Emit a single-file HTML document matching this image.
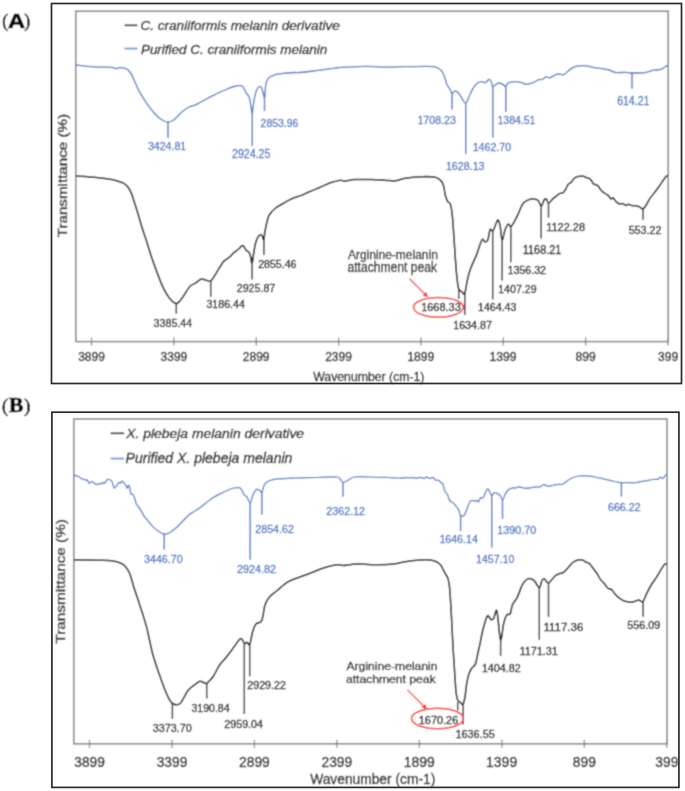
<!DOCTYPE html>
<html><head><meta charset="utf-8"><style>
html,body{margin:0;padding:0;background:#fff;}
body{width:685px;height:791px;overflow:hidden;}
svg{display:block;font-family:"Liberation Sans",sans-serif;}
#wrap{width:685px;height:791px;}
</style></head><body>
<div id="wrap"><svg width="685" height="791" viewBox="0 0 685 791">
<defs><filter id="bl" x="0" y="0" width="100%" height="100%"><feConvolveMatrix order="3" kernelMatrix="1 3 1 3 9 3 1 3 1" edgeMode="duplicate" preserveAlpha="true"/></filter></defs>
<g filter="url(#bl)"><rect width="685" height="791" fill="#fff"/>
<text x="2.19" y="27.24" font-size="19.34" textLength="6.01" lengthAdjust="spacingAndGlyphs" font-family="Liberation Serif" fill="#000000" stroke="#000000" stroke-width="0.5" font-weight="normal" font-style="normal">(</text>
<text x="8.01" y="27.70" font-size="19.42" textLength="17.03" lengthAdjust="spacingAndGlyphs" font-family="Liberation Sans" fill="#000000" stroke="#000000" stroke-width="0.7" font-weight="bold" font-style="normal">A</text>
<text x="24.17" y="27.24" font-size="19.34" textLength="5.89" lengthAdjust="spacingAndGlyphs" font-family="Liberation Serif" fill="#000000" stroke="#000000" stroke-width="0.5" font-weight="normal" font-style="normal">)</text>
<rect x="75.8" y="11.2" width="592.4000000000001" height="330.40000000000003" fill="none" stroke="#808080" stroke-width="1.5"/>
<line x1="91.50" y1="337.6" x2="91.50" y2="345.6" stroke="#808080" stroke-width="1.2"/>
<line x1="173.86" y1="337.6" x2="173.86" y2="345.6" stroke="#808080" stroke-width="1.2"/>
<line x1="256.22" y1="337.6" x2="256.22" y2="345.6" stroke="#808080" stroke-width="1.2"/>
<line x1="338.58" y1="337.6" x2="338.58" y2="345.6" stroke="#808080" stroke-width="1.2"/>
<line x1="420.94" y1="337.6" x2="420.94" y2="345.6" stroke="#808080" stroke-width="1.2"/>
<line x1="503.30" y1="337.6" x2="503.30" y2="345.6" stroke="#808080" stroke-width="1.2"/>
<line x1="585.66" y1="337.6" x2="585.66" y2="345.6" stroke="#808080" stroke-width="1.2"/>
<line x1="668.02" y1="337.6" x2="668.02" y2="345.6" stroke="#808080" stroke-width="1.2"/>
<text x="78.22" y="361.40" font-size="12.71" textLength="26.61" lengthAdjust="spacingAndGlyphs" fill="#262626" stroke="#262626" stroke-width="0.35" font-weight="normal" font-style="normal">3899</text>
<text x="160.58" y="361.40" font-size="12.71" textLength="26.61" lengthAdjust="spacingAndGlyphs" fill="#262626" stroke="#262626" stroke-width="0.35" font-weight="normal" font-style="normal">3399</text>
<text x="242.82" y="361.40" font-size="12.71" textLength="26.74" lengthAdjust="spacingAndGlyphs" fill="#262626" stroke="#262626" stroke-width="0.35" font-weight="normal" font-style="normal">2899</text>
<text x="325.18" y="361.40" font-size="12.71" textLength="26.74" lengthAdjust="spacingAndGlyphs" fill="#262626" stroke="#262626" stroke-width="0.35" font-weight="normal" font-style="normal">2399</text>
<text x="407.23" y="361.40" font-size="12.71" textLength="27.06" lengthAdjust="spacingAndGlyphs" fill="#262626" stroke="#262626" stroke-width="0.35" font-weight="normal" font-style="normal">1899</text>
<text x="489.59" y="361.40" font-size="12.71" textLength="27.06" lengthAdjust="spacingAndGlyphs" fill="#262626" stroke="#262626" stroke-width="0.35" font-weight="normal" font-style="normal">1399</text>
<text x="575.56" y="361.40" font-size="12.71" textLength="20.23" lengthAdjust="spacingAndGlyphs" fill="#262626" stroke="#262626" stroke-width="0.35" font-weight="normal" font-style="normal">899</text>
<text x="657.99" y="361.40" font-size="12.71" textLength="20.17" lengthAdjust="spacingAndGlyphs" fill="#262626" stroke="#262626" stroke-width="0.35" font-weight="normal" font-style="normal">399</text>
<text x="313.24" y="380.80" font-size="13.10" textLength="111.21" lengthAdjust="spacingAndGlyphs" fill="#262626" stroke="#262626" stroke-width="0.35" font-weight="normal" font-style="normal">Wavenumber (cm-1)</text>
<text transform="translate(66.90,237.30) rotate(-90)" x="0" y="0" font-size="13.19" textLength="123.34" lengthAdjust="spacingAndGlyphs" fill="#333333" stroke="#333333" stroke-width="0.45">Transmittance (%)</text>
<line x1="124.6" y1="25.3" x2="137.4" y2="25.3" stroke="#404040" stroke-width="1.8"/>
<text x="140.56" y="30.40" font-size="12.86" textLength="199.15" lengthAdjust="spacingAndGlyphs" fill="#262626" stroke="#262626" stroke-width="0.35" font-weight="normal" font-style="italic">C. craniiformis melanin derivative</text>
<line x1="124.6" y1="48.6" x2="137.4" y2="48.6" stroke="#6f94d6" stroke-width="1.8"/>
<text x="140.90" y="53.70" font-size="12.86" textLength="186.46" lengthAdjust="spacingAndGlyphs" fill="#262626" stroke="#262626" stroke-width="0.35" font-weight="normal" font-style="italic">Purified C. craniiformis melanin</text>
<path d="M76.00,64.80 C76.23,64.87 74.48,64.85 77.40,65.20 C80.32,65.55 87.90,66.55 93.50,66.90 C99.10,67.25 107.20,67.00 111.00,67.30 C114.80,67.60 114.97,68.65 116.30,68.70 C117.63,68.75 117.38,67.60 119.00,67.60 C120.62,67.60 124.12,67.88 126.00,68.70 C127.88,69.52 129.00,70.70 130.30,72.50 C131.60,74.30 132.35,76.43 133.80,79.50 C135.25,82.57 136.97,87.10 139.00,90.90 C141.03,94.70 143.37,98.50 146.00,102.30 C148.63,106.10 152.17,110.78 154.80,113.70 C157.43,116.62 159.60,118.40 161.80,119.80 C164.00,121.20 165.97,122.10 168.00,122.10 C170.03,122.10 171.83,121.35 174.00,119.80 C176.17,118.25 178.67,114.85 181.00,112.80 C183.33,110.75 185.50,108.87 188.00,107.50 C190.50,106.13 193.92,105.47 196.00,104.60 C198.08,103.73 197.70,103.80 200.50,102.30 C203.30,100.80 208.72,97.65 212.80,95.60 C216.88,93.55 221.50,91.52 225.00,90.00 C228.50,88.48 231.17,87.22 233.80,86.50 C236.43,85.78 239.20,85.55 240.80,85.70 C242.40,85.85 242.53,86.23 243.40,87.40 C244.27,88.57 245.12,91.23 246.00,92.70 C246.88,94.17 247.97,94.60 248.70,96.20 C249.43,97.80 249.82,99.45 250.40,102.30 C250.98,105.15 251.60,113.60 252.20,113.30 C252.80,113.00 253.27,104.38 254.00,100.50 C254.73,96.62 255.65,92.33 256.60,90.00 C257.55,87.67 258.83,86.78 259.70,86.50 C260.57,86.22 261.00,86.52 261.80,88.30 C262.60,90.08 263.85,97.78 264.50,97.20 C265.15,96.62 265.12,87.90 265.70,84.80 C266.28,81.70 266.62,80.22 268.00,78.60 C269.38,76.98 271.50,75.97 274.00,75.10 C276.50,74.23 279.50,73.83 283.00,73.40 C286.50,72.97 292.17,72.65 295.00,72.50 C297.83,72.35 296.25,72.85 300.00,72.50 C303.75,72.15 311.67,71.13 317.50,70.40 C323.33,69.67 330.33,68.63 335.00,68.10 C339.67,67.57 340.23,67.48 345.50,67.20 C350.77,66.92 359.58,66.40 366.60,66.40 C373.62,66.40 381.20,67.15 387.60,67.20 C394.00,67.25 398.35,66.83 405.00,66.70 C411.65,66.57 422.28,66.30 427.50,66.40 C432.72,66.50 433.97,66.57 436.30,67.30 C438.63,68.03 440.18,69.35 441.50,70.80 C442.82,72.25 443.32,73.82 444.20,76.00 C445.08,78.18 445.78,81.57 446.80,83.90 C447.82,86.23 449.43,88.40 450.30,90.00 C451.17,91.60 451.18,93.35 452.00,93.50 C452.82,93.65 454.17,91.03 455.20,90.90 C456.23,90.77 457.12,91.53 458.20,92.70 C459.28,93.87 460.45,96.15 461.70,97.90 C462.95,99.65 464.38,103.63 465.70,103.20 C467.02,102.77 468.38,97.78 469.60,95.30 C470.82,92.82 471.70,90.35 473.00,88.30 C474.30,86.25 475.93,84.12 477.40,83.00 C478.87,81.88 480.48,81.65 481.80,81.60 C483.12,81.55 484.13,83.05 485.30,82.70 C486.47,82.35 487.85,79.73 488.80,79.50 C489.75,79.27 490.35,80.13 491.00,81.30 C491.65,82.47 491.90,85.98 492.70,86.50 C493.50,87.02 494.70,84.98 495.80,84.40 C496.90,83.82 498.12,83.00 499.30,83.00 C500.48,83.00 501.87,83.82 502.90,84.40 C503.93,84.98 504.65,86.73 505.50,86.50 C506.35,86.27 506.42,83.82 508.00,83.00 C509.58,82.18 512.67,81.65 515.00,81.60 C517.33,81.55 520.08,82.23 522.00,82.70 C523.92,83.17 524.67,84.40 526.50,84.40 C528.33,84.40 530.98,83.50 533.00,82.70 C535.02,81.90 537.12,80.12 538.60,79.60 C540.08,79.08 540.62,80.08 541.90,79.60 C543.18,79.12 545.02,77.00 546.30,76.70 C547.58,76.40 547.78,78.23 549.60,77.80 C551.42,77.37 554.83,74.63 557.20,74.10 C559.57,73.57 561.60,75.43 563.80,74.60 C566.00,73.77 568.20,70.50 570.40,69.10 C572.60,67.70 574.45,66.75 577.00,66.20 C579.55,65.65 582.80,65.57 585.70,65.80 C588.60,66.03 590.75,66.98 594.40,67.60 C598.05,68.22 604.13,68.70 607.60,69.50 C611.07,70.30 612.30,71.92 615.20,72.40 C618.10,72.88 622.25,72.30 625.00,72.40 C627.75,72.50 628.40,72.97 631.70,73.00 C635.00,73.03 641.15,73.07 644.80,72.60 C648.45,72.13 651.07,70.68 653.60,70.20 C656.13,69.72 657.88,70.37 660.00,69.70 C662.12,69.03 664.97,66.90 666.30,66.20 C667.63,65.50 667.72,65.62 668.00,65.50" fill="none" stroke="#4472C4" stroke-width="1.3" stroke-linejoin="round"/>
<path d="M76.00,176.10 C79.37,176.33 90.73,177.02 96.20,177.50 C101.67,177.98 105.25,178.42 108.80,179.00 C112.35,179.58 115.07,180.32 117.50,181.00 C119.93,181.68 121.70,182.13 123.40,183.10 C125.10,184.07 126.37,185.08 127.70,186.80 C129.03,188.52 130.30,190.85 131.40,193.40 C132.50,195.95 133.20,198.70 134.30,202.10 C135.40,205.50 136.67,209.42 138.00,213.80 C139.33,218.18 140.85,223.78 142.30,228.40 C143.75,233.02 145.18,236.77 146.70,241.50 C148.22,246.23 149.60,251.45 151.40,256.80 C153.20,262.15 155.50,268.37 157.50,273.60 C159.50,278.83 161.45,284.18 163.40,288.20 C165.35,292.22 167.07,295.13 169.20,297.70 C171.33,300.27 174.02,303.60 176.20,303.60 C178.38,303.60 180.07,300.52 182.30,297.70 C184.53,294.88 187.40,289.13 189.60,286.70 C191.80,284.27 193.55,284.37 195.50,283.10 C197.45,281.83 199.60,279.60 201.30,279.10 C203.00,278.60 204.12,279.80 205.70,280.10 C207.28,280.40 209.10,281.98 210.80,280.90 C212.50,279.82 213.83,276.77 215.90,273.60 C217.97,270.43 221.02,264.58 223.20,261.90 C225.38,259.22 227.30,258.97 229.00,257.50 C230.70,256.03 231.80,254.52 233.40,253.10 C235.00,251.68 237.10,250.28 238.60,249.00 C240.10,247.72 241.42,245.65 242.40,245.40 C243.38,245.15 243.82,246.65 244.50,247.50 C245.18,248.35 245.92,249.83 246.50,250.50 C247.08,251.17 247.48,251.00 248.00,251.50 C248.52,252.00 249.13,252.50 249.60,253.50 C250.07,254.50 250.40,255.78 250.80,257.50 C251.20,259.22 251.58,264.05 252.00,263.80 C252.42,263.55 252.90,258.47 253.30,256.00 C253.70,253.53 254.07,250.95 254.40,249.00 C254.73,247.05 254.90,245.88 255.30,244.30 C255.70,242.72 256.32,240.77 256.80,239.50 C257.28,238.23 257.58,237.52 258.20,236.70 C258.82,235.88 259.82,234.70 260.50,234.60 C261.18,234.50 261.75,235.20 262.30,236.10 C262.85,237.00 263.42,240.38 263.80,240.00 C264.18,239.62 264.27,235.92 264.60,233.80 C264.93,231.68 265.48,228.93 265.80,227.30 C266.12,225.67 265.98,225.95 266.50,224.00 C267.02,222.05 267.48,218.18 268.90,215.60 C270.32,213.02 272.63,210.52 275.00,208.50 C277.37,206.48 280.40,205.08 283.10,203.50 C285.80,201.92 288.17,200.35 291.20,199.00 C294.23,197.65 298.48,196.52 301.30,195.40 C304.12,194.28 304.95,193.65 308.10,192.30 C311.25,190.95 316.48,188.88 320.20,187.30 C323.92,185.72 327.02,183.98 330.40,182.80 C333.78,181.62 338.15,180.47 340.50,180.20 C342.85,179.93 342.13,181.30 344.50,181.20 C346.87,181.10 350.30,179.87 354.70,179.60 C359.10,179.33 365.85,179.50 370.90,179.60 C375.95,179.70 380.97,180.00 385.00,180.20 C389.03,180.40 391.72,181.13 395.10,180.80 C398.48,180.47 400.80,178.88 405.30,178.20 C409.80,177.52 417.27,176.88 422.10,176.70 C426.93,176.52 431.25,176.52 434.30,177.10 C437.35,177.68 438.88,178.85 440.40,180.20 C441.92,181.55 442.57,182.67 443.40,185.20 C444.23,187.73 444.73,192.77 445.40,195.40 C446.07,198.03 446.55,199.48 447.40,201.00 C448.25,202.52 449.65,201.73 450.50,204.50 C451.35,207.27 451.83,210.68 452.50,217.60 C453.17,224.52 453.82,236.55 454.50,246.00 C455.18,255.45 455.92,267.22 456.60,274.30 C457.28,281.38 457.77,285.63 458.60,288.50 C459.43,291.37 460.58,290.67 461.60,291.50 C462.62,292.33 463.68,295.68 464.70,293.50 C465.72,291.32 466.70,282.62 467.70,278.40 C468.70,274.18 469.18,272.25 470.70,268.20 C472.22,264.15 474.93,258.82 476.80,254.10 C478.67,249.38 480.55,241.93 481.90,239.90 C483.25,237.87 483.90,241.90 484.90,241.90 C485.90,241.90 487.05,241.92 487.90,239.90 C488.75,237.88 489.15,231.32 490.00,229.80 C490.85,228.28 492.00,231.82 493.00,230.80 C494.00,229.78 495.17,225.50 496.00,223.70 C496.83,221.90 497.32,219.67 498.00,220.00 C498.68,220.33 499.42,222.38 500.10,225.70 C500.78,229.02 501.27,239.22 502.10,239.90 C502.93,240.58 504.08,232.43 505.10,229.80 C506.12,227.17 507.25,224.62 508.20,224.10 C509.15,223.58 509.78,227.10 510.80,226.70 C511.82,226.30 513.05,223.88 514.30,221.70 C515.55,219.52 517.13,216.13 518.30,213.60 C519.47,211.07 520.28,208.40 521.30,206.50 C522.32,204.60 522.78,203.47 524.40,202.20 C526.02,200.93 529.00,199.33 531.00,198.90 C533.00,198.47 535.13,199.23 536.40,199.60 C537.67,199.97 537.80,200.00 538.60,201.10 C539.40,202.20 540.28,206.38 541.20,206.20 C542.12,206.02 543.25,201.22 544.10,200.00 C544.95,198.78 545.57,198.35 546.30,198.90 C547.03,199.45 547.42,203.30 548.50,203.30 C549.58,203.30 551.38,200.20 552.80,198.90 C554.22,197.60 555.80,196.42 557.00,195.50 C558.20,194.58 559.02,193.82 560.00,193.40 C560.98,192.98 561.93,193.73 562.90,193.00 C563.87,192.27 564.95,190.40 565.80,189.00 C566.65,187.60 567.13,185.70 568.00,184.60 C568.87,183.50 570.02,183.37 571.00,182.40 C571.98,181.43 572.93,179.72 573.90,178.80 C574.87,177.88 575.72,177.33 576.80,176.90 C577.88,176.47 579.30,176.32 580.40,176.20 C581.50,176.08 582.55,176.02 583.40,176.20 C584.25,176.38 584.53,176.93 585.50,177.30 C586.47,177.67 588.22,177.87 589.20,178.40 C590.18,178.93 590.68,179.58 591.40,180.50 C592.12,181.42 592.42,183.03 593.50,183.90 C594.58,184.77 596.73,184.75 597.90,185.70 C599.07,186.65 599.63,188.52 600.50,189.60 C601.37,190.68 601.93,191.32 603.10,192.20 C604.27,193.08 606.18,193.80 607.50,194.90 C608.82,196.00 610.05,198.28 611.00,198.80 C611.95,199.32 612.32,197.48 613.20,198.00 C614.08,198.52 615.20,200.88 616.30,201.90 C617.40,202.92 618.78,203.82 619.80,204.10 C620.82,204.38 621.38,203.38 622.40,203.60 C623.42,203.82 624.88,205.28 625.90,205.40 C626.92,205.52 627.48,204.27 628.50,204.30 C629.52,204.33 630.68,205.35 632.00,205.60 C633.32,205.85 635.08,205.55 636.40,205.80 C637.72,206.05 638.83,206.57 639.90,207.10 C640.97,207.63 641.78,209.28 642.80,209.00 C643.82,208.72 644.80,207.17 646.00,205.40 C647.20,203.63 648.00,201.30 650.00,198.40 C652.00,195.50 655.40,191.57 658.00,188.00 C660.60,184.43 663.97,179.08 665.60,177.00 C667.23,174.92 667.43,175.75 667.80,175.50" fill="none" stroke="#0a0a0a" stroke-width="1.55" stroke-linejoin="round"/>
<line x1="168" y1="122" x2="168" y2="138" stroke="#4472C4" stroke-width="1.4"/>
<line x1="252.3" y1="111" x2="252.3" y2="146" stroke="#4472C4" stroke-width="1.4"/>
<line x1="264.5" y1="95.6" x2="264.5" y2="111" stroke="#4472C4" stroke-width="1.4"/>
<line x1="452" y1="93.5" x2="452" y2="109.4" stroke="#4472C4" stroke-width="1.4"/>
<line x1="465.7" y1="103.2" x2="465.7" y2="154" stroke="#4472C4" stroke-width="1.4"/>
<line x1="492.8" y1="86.5" x2="492.8" y2="137.7" stroke="#4472C4" stroke-width="1.4"/>
<line x1="505.8" y1="86.5" x2="505.8" y2="112" stroke="#4472C4" stroke-width="1.4"/>
<line x1="632" y1="73" x2="632" y2="88.8" stroke="#4472C4" stroke-width="1.4"/>
<line x1="176.3" y1="303.6" x2="176.3" y2="313.7" stroke="#333333" stroke-width="1.5"/>
<line x1="210.7" y1="281" x2="210.7" y2="296.8" stroke="#333333" stroke-width="1.5"/>
<line x1="252.1" y1="263.2" x2="252.1" y2="279.4" stroke="#333333" stroke-width="1.5"/>
<line x1="263.9" y1="238.9" x2="263.9" y2="255" stroke="#333333" stroke-width="1.5"/>
<line x1="458.7" y1="288.5" x2="458.7" y2="299" stroke="#333333" stroke-width="1.5"/>
<line x1="464.8" y1="293.5" x2="464.8" y2="315" stroke="#333333" stroke-width="1.5"/>
<line x1="492.7" y1="230.8" x2="492.7" y2="299.4" stroke="#333333" stroke-width="1.5"/>
<line x1="502.1" y1="239.9" x2="502.1" y2="280.4" stroke="#333333" stroke-width="1.5"/>
<line x1="510.8" y1="226.7" x2="510.8" y2="262.2" stroke="#333333" stroke-width="1.5"/>
<line x1="541.2" y1="206.2" x2="541.2" y2="238.4" stroke="#333333" stroke-width="1.5"/>
<line x1="548.5" y1="203.3" x2="548.5" y2="217.6" stroke="#333333" stroke-width="1.5"/>
<line x1="643.1" y1="208.8" x2="643.1" y2="219.7" stroke="#333333" stroke-width="1.5"/>
<text x="147.88" y="150.20" font-size="11.57" textLength="38.30" lengthAdjust="spacingAndGlyphs" fill="#4472C4" stroke="#4472C4" stroke-width="0.3" font-weight="normal" font-style="normal">3424.81</text>
<text x="232.07" y="158.40" font-size="12.00" textLength="38.35" lengthAdjust="spacingAndGlyphs" fill="#4472C4" stroke="#4472C4" stroke-width="0.3" font-weight="normal" font-style="normal">2924.25</text>
<text x="260.58" y="126.90" font-size="11.29" textLength="37.84" lengthAdjust="spacingAndGlyphs" fill="#4472C4" stroke="#4472C4" stroke-width="0.3" font-weight="normal" font-style="normal">2853.96</text>
<text x="417.40" y="123.60" font-size="11.29" textLength="38.52" lengthAdjust="spacingAndGlyphs" fill="#4472C4" stroke="#4472C4" stroke-width="0.3" font-weight="normal" font-style="normal">1708.23</text>
<text x="445.90" y="170.20" font-size="11.29" textLength="38.63" lengthAdjust="spacingAndGlyphs" fill="#4472C4" stroke="#4472C4" stroke-width="0.3" font-weight="normal" font-style="normal">1628.13</text>
<text x="472.70" y="150.90" font-size="11.29" textLength="38.37" lengthAdjust="spacingAndGlyphs" fill="#4472C4" stroke="#4472C4" stroke-width="0.3" font-weight="normal" font-style="normal">1462.70</text>
<text x="497.51" y="123.60" font-size="11.29" textLength="37.86" lengthAdjust="spacingAndGlyphs" fill="#4472C4" stroke="#4472C4" stroke-width="0.3" font-weight="normal" font-style="normal">1384.51</text>
<text x="617.17" y="105.20" font-size="12.00" textLength="32.19" lengthAdjust="spacingAndGlyphs" fill="#4472C4" stroke="#4472C4" stroke-width="0.3" font-weight="normal" font-style="normal">614.21</text>
<text x="153.57" y="326.80" font-size="11.29" textLength="38.65" lengthAdjust="spacingAndGlyphs" fill="#1a1a1a" stroke="#1a1a1a" stroke-width="0.35" font-weight="normal" font-style="normal">3385.44</text>
<text x="206.48" y="308.40" font-size="11.29" textLength="38.34" lengthAdjust="spacingAndGlyphs" fill="#1a1a1a" stroke="#1a1a1a" stroke-width="0.35" font-weight="normal" font-style="normal">3186.44</text>
<text x="236.77" y="291.50" font-size="11.14" textLength="38.46" lengthAdjust="spacingAndGlyphs" fill="#1a1a1a" stroke="#1a1a1a" stroke-width="0.35" font-weight="normal" font-style="normal">2925.87</text>
<text x="258.17" y="268.20" font-size="11.14" textLength="38.25" lengthAdjust="spacingAndGlyphs" fill="#1a1a1a" stroke="#1a1a1a" stroke-width="0.35" font-weight="normal" font-style="normal">2855.46</text>
<text x="421.18" y="310.80" font-size="10.71" textLength="39.56" lengthAdjust="spacingAndGlyphs" fill="#1a1a1a" stroke="#1a1a1a" stroke-width="0.35" font-weight="normal" font-style="normal">1668.33</text>
<text x="453.20" y="329.00" font-size="11.29" textLength="38.74" lengthAdjust="spacingAndGlyphs" fill="#1a1a1a" stroke="#1a1a1a" stroke-width="0.35" font-weight="normal" font-style="normal">1634.87</text>
<text x="478.00" y="310.70" font-size="10.86" textLength="38.32" lengthAdjust="spacingAndGlyphs" fill="#1a1a1a" stroke="#1a1a1a" stroke-width="0.35" font-weight="normal" font-style="normal">1464.43</text>
<text x="498.20" y="293.10" font-size="11.29" textLength="38.37" lengthAdjust="spacingAndGlyphs" fill="#1a1a1a" stroke="#1a1a1a" stroke-width="0.35" font-weight="normal" font-style="normal">1407.29</text>
<text x="507.50" y="274.00" font-size="11.43" textLength="38.53" lengthAdjust="spacingAndGlyphs" fill="#1a1a1a" stroke="#1a1a1a" stroke-width="0.35" font-weight="normal" font-style="normal">1356.32</text>
<text x="522.78" y="254.30" font-size="12.00" textLength="38.62" lengthAdjust="spacingAndGlyphs" fill="#1a1a1a" stroke="#1a1a1a" stroke-width="0.35" font-weight="normal" font-style="normal">1168.21</text>
<text x="546.17" y="231.30" font-size="11.43" textLength="38.97" lengthAdjust="spacingAndGlyphs" fill="#1a1a1a" stroke="#1a1a1a" stroke-width="0.35" font-weight="normal" font-style="normal">1122.28</text>
<text x="628.67" y="233.50" font-size="11.43" textLength="32.75" lengthAdjust="spacingAndGlyphs" fill="#1a1a1a" stroke="#1a1a1a" stroke-width="0.35" font-weight="normal" font-style="normal">553.22</text>
<text x="347.90" y="258.60" font-size="12.69" textLength="89.97" lengthAdjust="spacingAndGlyphs" fill="#262626" stroke="#262626" stroke-width="0.3" font-weight="normal" font-style="normal">Arginine-melanin</text>
<text x="347.41" y="271.70" font-size="14.07" textLength="89.67" lengthAdjust="spacingAndGlyphs" fill="#262626" stroke="#262626" stroke-width="0.3" font-weight="normal" font-style="normal">attachment peak</text>
<line x1="409.5" y1="278.8" x2="424.36" y2="293.66" stroke="#FF2A2A" stroke-width="1.3"/>
<polygon points="427.9,297.2 422.53,295.50 426.20,291.83" fill="#FF2A2A"/>
<ellipse cx="438.4" cy="307.3" rx="25.0" ry="9.9" fill="none" stroke="#FF2A2A" stroke-width="1.5"/>
<text x="1.95" y="412.44" font-size="19.34" textLength="6.27" lengthAdjust="spacingAndGlyphs" font-family="Liberation Serif" fill="#000000" stroke="#000000" stroke-width="0.5" font-weight="normal" font-style="normal">(</text>
<text x="8.87" y="412.49" font-size="21.82" textLength="14.62" lengthAdjust="spacingAndGlyphs" font-family="Liberation Serif" fill="#000000" stroke="#000000" stroke-width="0.5" font-weight="bold" font-style="normal">B</text>
<text x="24.02" y="412.44" font-size="19.34" textLength="6.40" lengthAdjust="spacingAndGlyphs" font-family="Liberation Serif" fill="#000000" stroke="#000000" stroke-width="0.5" font-weight="normal" font-style="normal">)</text>
<rect x="73.8" y="419" width="593.2" height="324.79999999999995" fill="none" stroke="#808080" stroke-width="1.5"/>
<line x1="89.50" y1="739.8" x2="89.50" y2="747.8" stroke="#808080" stroke-width="1.2"/>
<line x1="171.97" y1="739.8" x2="171.97" y2="747.8" stroke="#808080" stroke-width="1.2"/>
<line x1="254.44" y1="739.8" x2="254.44" y2="747.8" stroke="#808080" stroke-width="1.2"/>
<line x1="336.91" y1="739.8" x2="336.91" y2="747.8" stroke="#808080" stroke-width="1.2"/>
<line x1="419.38" y1="739.8" x2="419.38" y2="747.8" stroke="#808080" stroke-width="1.2"/>
<line x1="501.85" y1="739.8" x2="501.85" y2="747.8" stroke="#808080" stroke-width="1.2"/>
<line x1="584.32" y1="739.8" x2="584.32" y2="747.8" stroke="#808080" stroke-width="1.2"/>
<line x1="666.79" y1="739.8" x2="666.79" y2="747.8" stroke="#808080" stroke-width="1.2"/>
<text x="74.25" y="766.80" font-size="14.71" textLength="30.56" lengthAdjust="spacingAndGlyphs" fill="#262626" stroke="#262626" stroke-width="0.35" font-weight="normal" font-style="normal">3899</text>
<text x="156.72" y="766.80" font-size="14.71" textLength="30.56" lengthAdjust="spacingAndGlyphs" fill="#262626" stroke="#262626" stroke-width="0.35" font-weight="normal" font-style="normal">3399</text>
<text x="239.05" y="766.80" font-size="14.71" textLength="30.71" lengthAdjust="spacingAndGlyphs" fill="#262626" stroke="#262626" stroke-width="0.35" font-weight="normal" font-style="normal">2899</text>
<text x="321.52" y="766.80" font-size="14.71" textLength="30.71" lengthAdjust="spacingAndGlyphs" fill="#262626" stroke="#262626" stroke-width="0.35" font-weight="normal" font-style="normal">2399</text>
<text x="403.63" y="766.80" font-size="14.71" textLength="31.07" lengthAdjust="spacingAndGlyphs" fill="#262626" stroke="#262626" stroke-width="0.35" font-weight="normal" font-style="normal">1899</text>
<text x="486.10" y="766.80" font-size="14.71" textLength="31.07" lengthAdjust="spacingAndGlyphs" fill="#262626" stroke="#262626" stroke-width="0.35" font-weight="normal" font-style="normal">1399</text>
<text x="572.80" y="766.80" font-size="14.71" textLength="23.09" lengthAdjust="spacingAndGlyphs" fill="#262626" stroke="#262626" stroke-width="0.35" font-weight="normal" font-style="normal">899</text>
<text x="655.34" y="766.80" font-size="14.71" textLength="23.02" lengthAdjust="spacingAndGlyphs" fill="#262626" stroke="#262626" stroke-width="0.35" font-weight="normal" font-style="normal">399</text>
<text x="310.23" y="784.00" font-size="14.07" textLength="125.01" lengthAdjust="spacingAndGlyphs" fill="#262626" stroke="#262626" stroke-width="0.35" font-weight="normal" font-style="normal">Wavenumber (cm-1)</text>
<text transform="translate(64.70,643.61) rotate(-90)" x="0" y="0" font-size="13.33" textLength="124.55" lengthAdjust="spacingAndGlyphs" fill="#333333" stroke="#333333" stroke-width="0.45">Transmittance (%)</text>
<line x1="110.6" y1="433.3" x2="124.1" y2="433.3" stroke="#404040" stroke-width="1.8"/>
<text x="126.21" y="437.70" font-size="12.00" textLength="177.89" lengthAdjust="spacingAndGlyphs" fill="#262626" stroke="#262626" stroke-width="0.35" font-weight="normal" font-style="italic">X. plebeja melanin derivative</text>
<line x1="110.6" y1="458.6" x2="124.1" y2="458.6" stroke="#6f94d6" stroke-width="1.8"/>
<text x="125.58" y="463.40" font-size="13.71" textLength="166.77" lengthAdjust="spacingAndGlyphs" fill="#262626" stroke="#262626" stroke-width="0.35" font-weight="normal" font-style="italic">Purified X. plebeja melanin</text>
<path d="M74.00,475.10 C74.68,475.30 76.82,475.70 78.10,476.30 C79.38,476.90 80.68,478.18 81.70,478.70 C82.72,479.22 83.52,479.15 84.20,479.40 C84.88,479.65 85.28,480.10 85.80,480.20 C86.32,480.30 86.75,479.48 87.30,480.00 C87.85,480.52 88.50,482.95 89.10,483.30 C89.70,483.65 90.35,482.35 90.90,482.10 C91.45,481.85 91.82,481.60 92.40,481.80 C92.98,482.00 93.72,482.85 94.40,483.30 C95.08,483.75 95.82,484.37 96.50,484.50 C97.18,484.63 97.90,484.30 98.50,484.10 C99.10,483.90 99.58,483.33 100.10,483.30 C100.62,483.27 101.10,484.07 101.60,483.90 C102.10,483.73 102.58,482.43 103.10,482.30 C103.62,482.17 104.18,483.28 104.70,483.10 C105.22,482.92 105.70,481.82 106.20,481.20 C106.70,480.58 107.10,479.65 107.70,479.40 C108.30,479.15 109.12,479.40 109.80,479.70 C110.48,480.00 111.25,480.27 111.80,481.20 C112.35,482.13 112.67,484.13 113.10,485.30 C113.53,486.47 113.77,488.20 114.40,488.20 C115.03,488.20 116.13,486.25 116.90,485.30 C117.67,484.35 118.40,482.87 119.00,482.50 C119.60,482.13 119.97,483.35 120.50,483.10 C121.03,482.85 121.60,480.97 122.20,481.00 C122.80,481.03 123.45,482.50 124.10,483.30 C124.75,484.10 125.60,484.95 126.10,485.80 C126.60,486.65 126.75,488.40 127.10,488.40 C127.45,488.40 127.82,486.15 128.20,485.80 C128.58,485.45 128.98,485.02 129.40,486.30 C129.82,487.58 130.23,492.22 130.70,493.50 C131.17,494.78 131.77,493.75 132.20,494.00 C132.63,494.25 132.78,494.00 133.30,495.00 C133.82,496.00 134.82,498.53 135.30,500.00 C135.78,501.47 135.32,502.15 136.20,503.80 C137.08,505.45 139.28,507.85 140.60,509.90 C141.92,511.95 142.93,514.35 144.10,516.10 C145.27,517.85 146.15,518.65 147.60,520.40 C149.05,522.15 151.05,524.83 152.80,526.60 C154.55,528.37 156.20,529.75 158.10,531.00 C160.00,532.25 162.30,533.82 164.20,534.10 C166.10,534.38 167.60,533.67 169.50,532.70 C171.40,531.73 173.42,530.20 175.60,528.30 C177.78,526.40 180.27,523.63 182.60,521.30 C184.93,518.97 187.70,515.90 189.60,514.30 C191.50,512.70 192.18,512.87 194.00,511.70 C195.82,510.53 197.37,509.63 200.50,507.30 C203.63,504.97 208.72,500.33 212.80,497.70 C216.88,495.07 221.50,493.12 225.00,491.50 C228.50,489.88 231.47,488.63 233.80,488.00 C236.13,487.37 237.68,487.40 239.00,487.70 C240.32,488.00 240.82,488.58 241.70,489.80 C242.58,491.02 243.43,493.83 244.30,495.00 C245.17,496.17 245.88,495.48 246.90,496.80 C247.92,498.12 249.37,503.33 250.40,502.90 C251.43,502.47 252.07,496.45 253.10,494.20 C254.13,491.95 255.43,489.98 256.60,489.40 C257.77,488.82 259.23,490.20 260.10,490.70 C260.97,491.20 261.07,493.43 261.80,492.40 C262.53,491.37 263.33,486.40 264.50,484.50 C265.67,482.60 266.62,481.93 268.80,481.00 C270.98,480.07 273.22,479.40 277.60,478.90 C281.98,478.40 288.45,478.23 295.10,478.00 C301.75,477.77 310.55,477.67 317.50,477.50 C324.45,477.33 333.00,476.70 336.80,477.00 C340.60,477.30 339.28,478.40 340.30,479.30 C341.32,480.20 341.73,482.17 342.90,482.40 C344.07,482.63 345.40,481.60 347.30,480.70 C349.20,479.80 350.52,477.62 354.30,477.00 C358.08,476.38 364.45,476.92 370.00,477.00 C375.55,477.08 382.60,477.33 387.60,477.50 C392.60,477.67 396.92,477.97 400.00,478.00 C403.08,478.03 404.05,477.75 406.10,477.70 C408.15,477.65 410.60,477.62 412.30,477.70 C414.00,477.78 414.95,478.25 416.30,478.20 C417.65,478.15 419.03,477.37 420.40,477.40 C421.77,477.43 423.50,478.48 424.50,478.40 C425.50,478.32 425.72,476.93 426.40,476.90 C427.08,476.87 427.88,477.95 428.60,478.20 C429.32,478.45 429.98,478.53 430.70,478.40 C431.42,478.27 432.05,477.10 432.90,477.40 C433.75,477.70 434.82,479.70 435.80,480.20 C436.78,480.70 437.87,479.92 438.80,480.40 C439.73,480.88 440.72,482.53 441.40,483.10 C442.08,483.67 442.48,483.00 442.90,483.80 C443.32,484.60 443.55,486.62 443.90,487.90 C444.25,489.18 444.40,490.40 445.00,491.50 C445.60,492.60 446.83,493.23 447.50,494.50 C448.17,495.77 448.40,497.90 449.00,499.10 C449.60,500.30 450.33,501.02 451.10,501.70 C451.87,502.38 452.83,502.52 453.60,503.20 C454.37,503.88 454.83,504.68 455.70,505.80 C456.57,506.92 458.00,508.28 458.80,509.90 C459.60,511.52 459.57,514.65 460.50,515.50 C461.43,516.35 463.25,516.28 464.40,515.00 C465.55,513.72 466.47,510.05 467.40,507.80 C468.33,505.55 469.13,502.72 470.00,501.50 C470.87,500.28 471.72,500.53 472.60,500.50 C473.48,500.47 474.53,501.30 475.30,501.30 C476.07,501.30 476.67,500.42 477.20,500.50 C477.73,500.58 477.95,502.28 478.50,501.80 C479.05,501.32 479.83,498.20 480.50,497.60 C481.17,497.00 481.83,498.63 482.50,498.20 C483.17,497.77 483.95,496.08 484.50,495.00 C485.05,493.92 485.27,492.75 485.80,491.70 C486.33,490.65 487.05,488.70 487.70,488.70 C488.35,488.70 489.03,490.55 489.70,491.70 C490.37,492.85 490.93,495.45 491.70,495.60 C492.47,495.75 493.43,492.97 494.30,492.60 C495.17,492.23 495.92,492.90 496.90,493.40 C497.88,493.90 499.25,494.50 500.20,495.60 C501.15,496.70 501.83,500.10 502.60,500.00 C503.37,499.90 503.88,496.67 504.80,495.00 C505.72,493.33 507.12,491.05 508.10,490.00 C509.08,488.95 509.82,489.08 510.70,488.70 C511.58,488.32 512.63,487.80 513.40,487.70 C514.17,487.60 514.43,488.25 515.30,488.10 C516.17,487.95 517.38,486.87 518.60,486.80 C519.82,486.73 521.50,487.43 522.60,487.70 C523.70,487.97 523.90,488.37 525.20,488.40 C526.50,488.43 528.65,488.17 530.40,487.90 C532.15,487.63 534.17,486.93 535.70,486.80 C537.23,486.67 538.28,487.45 539.60,487.10 C540.92,486.75 542.28,484.88 543.60,484.70 C544.92,484.52 546.18,485.82 547.50,486.00 C548.82,486.18 550.18,486.02 551.50,485.80 C552.82,485.58 553.98,484.95 555.40,484.70 C556.82,484.45 558.70,484.42 560.00,484.30 C561.30,484.18 561.87,484.67 563.20,484.00 C564.53,483.33 566.12,481.47 568.00,480.30 C569.88,479.13 572.35,477.73 574.50,477.00 C576.65,476.27 578.23,476.03 580.90,475.90 C583.57,475.77 587.30,475.82 590.50,476.20 C593.70,476.58 596.88,477.52 600.10,478.20 C603.32,478.88 606.85,479.63 609.80,480.30 C612.75,480.97 615.85,481.80 617.80,482.20 C619.75,482.60 619.62,482.62 621.50,482.70 C623.38,482.78 626.77,482.70 629.10,482.70 C631.43,482.70 633.10,482.97 635.50,482.70 C637.90,482.43 641.50,481.45 643.50,481.10 C645.50,480.75 646.03,480.87 647.50,480.60 C648.97,480.33 650.55,479.75 652.30,479.50 C654.05,479.25 656.65,479.52 658.00,479.10 C659.35,478.68 659.60,477.07 660.40,477.00 C661.20,476.93 662.00,478.97 662.80,478.70 C663.60,478.43 664.53,476.02 665.20,475.40 C665.87,474.78 666.53,475.07 666.80,475.00" fill="none" stroke="#4472C4" stroke-width="1.25" stroke-linejoin="round"/>
<path d="M74.00,559.80 C77.80,559.87 91.00,560.08 96.80,560.20 C102.60,560.32 105.35,560.20 108.80,560.50 C112.25,560.80 115.07,561.32 117.50,562.00 C119.93,562.68 121.70,563.32 123.40,564.60 C125.10,565.88 126.48,567.75 127.70,569.70 C128.92,571.65 129.72,573.50 130.70,576.30 C131.68,579.10 132.38,582.62 133.60,586.50 C134.82,590.38 136.55,595.22 138.00,599.60 C139.45,603.98 140.85,608.17 142.30,612.80 C143.75,617.43 145.50,622.87 146.70,627.40 C147.90,631.93 148.38,635.15 149.50,640.00 C150.62,644.85 151.78,650.83 153.40,656.50 C155.02,662.17 157.27,668.42 159.20,674.00 C161.13,679.58 163.30,685.73 165.00,690.00 C166.70,694.27 168.13,697.35 169.40,699.60 C170.67,701.85 171.38,702.65 172.60,703.50 C173.82,704.35 175.40,704.75 176.70,704.70 C178.00,704.65 179.18,704.42 180.40,703.20 C181.62,701.98 182.67,699.60 184.00,697.40 C185.33,695.20 186.70,692.07 188.40,690.00 C190.10,687.93 192.27,686.45 194.20,685.00 C196.13,683.55 198.42,681.72 200.00,681.30 C201.58,680.88 202.60,682.13 203.70,682.50 C204.80,682.87 205.50,683.93 206.60,683.50 C207.70,683.07 209.15,681.15 210.30,679.90 C211.45,678.65 211.95,678.48 213.50,676.00 C215.05,673.52 217.45,668.17 219.60,665.00 C221.75,661.83 224.12,659.85 226.40,657.00 C228.68,654.15 231.02,650.93 233.30,647.90 C235.58,644.87 238.52,640.02 240.10,638.80 C241.68,637.58 242.05,639.77 242.80,640.60 C243.55,641.43 243.92,643.53 244.60,643.80 C245.28,644.07 246.05,642.08 246.90,642.20 C247.75,642.32 248.75,646.20 249.70,644.50 C250.65,642.80 251.55,635.42 252.60,632.00 C253.65,628.58 254.48,625.90 256.00,624.00 C257.52,622.10 260.18,623.83 261.70,620.60 C263.22,617.37 263.77,608.58 265.10,604.60 C266.43,600.62 267.80,598.97 269.70,596.70 C271.60,594.43 273.47,593.47 276.50,591.00 C279.53,588.53 284.10,584.18 287.90,581.90 C291.70,579.62 295.38,578.82 299.30,577.30 C303.22,575.78 307.48,574.32 311.40,572.80 C315.32,571.28 318.63,569.53 322.80,568.20 C326.97,566.87 332.98,565.25 336.40,564.80 C339.82,564.35 339.88,565.62 343.30,565.50 C346.72,565.38 350.83,564.22 356.90,564.10 C362.97,563.98 373.25,564.87 379.70,564.80 C386.15,564.73 390.67,564.35 395.60,563.70 C400.53,563.05 405.23,561.53 409.30,560.90 C413.37,560.27 416.63,560.07 420.00,559.90 C423.37,559.73 427.07,559.72 429.50,559.90 C431.93,560.08 433.15,560.52 434.60,561.00 C436.05,561.48 437.10,562.02 438.20,562.80 C439.30,563.58 440.33,564.48 441.20,565.70 C442.07,566.92 442.68,568.70 443.40,570.10 C444.12,571.50 444.78,572.83 445.50,574.10 C446.22,575.37 447.15,576.37 447.70,577.70 C448.25,579.03 448.48,580.38 448.80,582.10 C449.12,583.82 449.32,585.02 449.60,588.00 C449.88,590.98 450.13,594.22 450.50,600.00 C450.87,605.78 451.40,615.12 451.80,622.70 C452.20,630.28 452.47,637.92 452.90,645.50 C453.33,653.08 453.90,660.63 454.40,668.20 C454.90,675.77 455.40,685.73 455.90,690.90 C456.40,696.07 456.90,697.43 457.40,699.20 C457.90,700.97 458.30,700.87 458.90,701.50 C459.50,702.13 460.33,702.48 461.00,703.00 C461.67,703.52 462.23,705.60 462.90,704.60 C463.57,703.60 464.40,700.30 465.00,697.00 C465.60,693.70 465.87,688.60 466.50,684.80 C467.13,681.00 467.92,676.97 468.80,674.20 C469.68,671.43 470.67,669.97 471.80,668.20 C472.93,666.43 474.58,666.13 475.60,663.60 C476.62,661.07 477.17,656.28 477.90,653.00 C478.63,649.72 479.17,647.78 480.00,643.90 C480.83,640.02 481.67,634.35 482.90,629.70 C484.13,625.05 486.08,617.72 487.40,616.00 C488.72,614.28 489.73,619.02 490.80,619.40 C491.87,619.78 492.92,619.82 493.80,618.30 C494.68,616.78 495.45,610.68 496.10,610.30 C496.75,609.92 496.95,611.05 497.70,616.00 C498.45,620.95 499.58,638.85 500.60,640.00 C501.62,641.15 502.77,627.08 503.80,622.90 C504.83,618.72 505.73,616.42 506.80,614.90 C507.87,613.38 509.25,615.52 510.20,613.80 C511.15,612.08 511.37,607.27 512.50,604.60 C513.63,601.93 515.48,600.83 517.00,597.80 C518.52,594.77 520.37,589.08 521.60,586.40 C522.83,583.72 523.20,583.02 524.40,581.70 C525.60,580.38 527.17,578.67 528.80,578.50 C530.43,578.33 532.45,579.17 534.20,580.70 C535.95,582.23 538.02,587.70 539.30,587.70 C540.58,587.70 541.03,582.17 541.90,580.70 C542.77,579.23 543.40,578.55 544.50,578.90 C545.60,579.25 546.57,583.42 548.50,582.80 C550.43,582.18 553.65,576.92 556.10,575.20 C558.55,573.48 561.22,573.75 563.20,572.50 C565.18,571.25 566.40,569.37 568.00,567.70 C569.60,566.03 571.18,563.78 572.80,562.50 C574.42,561.22 576.08,560.42 577.70,560.00 C579.32,559.58 581.17,559.67 582.50,560.00 C583.83,560.33 584.63,561.47 585.70,562.00 C586.77,562.53 587.83,562.38 588.90,563.20 C589.97,564.02 590.77,565.22 592.10,566.90 C593.43,568.58 595.57,571.30 596.90,573.30 C598.23,575.30 598.75,577.03 600.10,578.90 C601.45,580.77 603.65,582.90 605.00,584.50 C606.35,586.10 607.13,587.70 608.20,588.50 C609.27,589.30 610.33,588.48 611.40,589.30 C612.47,590.12 613.27,591.92 614.60,593.40 C615.93,594.88 617.80,596.92 619.40,598.20 C621.00,599.48 622.32,600.43 624.20,601.10 C626.08,601.77 628.82,602.20 630.70,602.20 C632.58,602.20 634.17,601.45 635.50,601.10 C636.83,600.75 637.47,600.02 638.70,600.10 C639.93,600.18 641.57,602.72 642.90,601.60 C644.23,600.48 645.27,596.25 646.70,593.40 C648.13,590.55 649.88,587.18 651.50,584.50 C653.12,581.82 654.78,579.83 656.40,577.30 C658.02,574.77 659.87,571.43 661.20,569.30 C662.53,567.17 663.47,565.43 664.40,564.50 C665.33,563.57 666.40,563.83 666.80,563.70" fill="none" stroke="#0a0a0a" stroke-width="1.55" stroke-linejoin="round"/>
<line x1="164.2" y1="534.1" x2="164.2" y2="549.4" stroke="#4472C4" stroke-width="1.4"/>
<line x1="250.2" y1="502.9" x2="250.2" y2="559.7" stroke="#4472C4" stroke-width="1.4"/>
<line x1="261.8" y1="492.4" x2="261.8" y2="514.7" stroke="#4472C4" stroke-width="1.4"/>
<line x1="342.9" y1="482.4" x2="342.9" y2="496.8" stroke="#4472C4" stroke-width="1.4"/>
<line x1="460.6" y1="515.7" x2="460.6" y2="531" stroke="#4472C4" stroke-width="1.4"/>
<line x1="491.7" y1="495" x2="491.7" y2="547.5" stroke="#4472C4" stroke-width="1.4"/>
<line x1="502.5" y1="500" x2="502.5" y2="519" stroke="#4472C4" stroke-width="1.4"/>
<line x1="621.4" y1="482.8" x2="621.4" y2="496.6" stroke="#4472C4" stroke-width="1.4"/>
<line x1="172.4" y1="703.5" x2="172.4" y2="718.9" stroke="#333333" stroke-width="1.5"/>
<line x1="206.7" y1="683.5" x2="206.7" y2="698.5" stroke="#333333" stroke-width="1.5"/>
<line x1="244.3" y1="643.8" x2="244.3" y2="714" stroke="#333333" stroke-width="1.5"/>
<line x1="249.7" y1="644.5" x2="249.7" y2="676.4" stroke="#333333" stroke-width="1.5"/>
<line x1="457.7" y1="702" x2="457.7" y2="710.3" stroke="#333333" stroke-width="1.5"/>
<line x1="463.2" y1="704.8" x2="463.2" y2="724.6" stroke="#333333" stroke-width="1.5"/>
<line x1="500.6" y1="640" x2="500.6" y2="655.9" stroke="#333333" stroke-width="1.5"/>
<line x1="539.3" y1="587.7" x2="539.3" y2="639.8" stroke="#333333" stroke-width="1.5"/>
<line x1="548.5" y1="582.8" x2="548.5" y2="616.8" stroke="#333333" stroke-width="1.5"/>
<line x1="643.1" y1="601.5" x2="643.1" y2="616.8" stroke="#333333" stroke-width="1.5"/>
<text x="144.07" y="562.80" font-size="11.29" textLength="38.50" lengthAdjust="spacingAndGlyphs" fill="#4472C4" stroke="#4472C4" stroke-width="0.3" font-weight="normal" font-style="normal">3446.70</text>
<text x="236.96" y="573.30" font-size="11.43" textLength="39.18" lengthAdjust="spacingAndGlyphs" fill="#4472C4" stroke="#4472C4" stroke-width="0.3" font-weight="normal" font-style="normal">2924.82</text>
<text x="255.27" y="533.00" font-size="11.71" textLength="38.67" lengthAdjust="spacingAndGlyphs" fill="#4472C4" stroke="#4472C4" stroke-width="0.3" font-weight="normal" font-style="normal">2854.62</text>
<text x="326.37" y="514.70" font-size="11.71" textLength="38.67" lengthAdjust="spacingAndGlyphs" fill="#4472C4" stroke="#4472C4" stroke-width="0.3" font-weight="normal" font-style="normal">2362.12</text>
<text x="439.40" y="542.70" font-size="10.43" textLength="38.41" lengthAdjust="spacingAndGlyphs" fill="#4472C4" stroke="#4472C4" stroke-width="0.3" font-weight="normal" font-style="normal">1646.14</text>
<text x="475.90" y="562.80" font-size="10.43" textLength="38.47" lengthAdjust="spacingAndGlyphs" fill="#4472C4" stroke="#4472C4" stroke-width="0.3" font-weight="normal" font-style="normal">1457.10</text>
<text x="497.39" y="533.80" font-size="10.43" textLength="38.98" lengthAdjust="spacingAndGlyphs" fill="#4472C4" stroke="#4472C4" stroke-width="0.3" font-weight="normal" font-style="normal">1390.70</text>
<text x="607.97" y="510.80" font-size="11.14" textLength="32.65" lengthAdjust="spacingAndGlyphs" fill="#4472C4" stroke="#4472C4" stroke-width="0.3" font-weight="normal" font-style="normal">666.22</text>
<text x="152.77" y="732.00" font-size="11.00" textLength="38.91" lengthAdjust="spacingAndGlyphs" fill="#1a1a1a" stroke="#1a1a1a" stroke-width="0.35" font-weight="normal" font-style="normal">3373.70</text>
<text x="191.48" y="712.30" font-size="11.43" textLength="38.14" lengthAdjust="spacingAndGlyphs" fill="#1a1a1a" stroke="#1a1a1a" stroke-width="0.35" font-weight="normal" font-style="normal">3190.84</text>
<text x="224.37" y="727.60" font-size="11.00" textLength="38.55" lengthAdjust="spacingAndGlyphs" fill="#1a1a1a" stroke="#1a1a1a" stroke-width="0.35" font-weight="normal" font-style="normal">2959.04</text>
<text x="247.37" y="688.90" font-size="11.00" textLength="38.46" lengthAdjust="spacingAndGlyphs" fill="#1a1a1a" stroke="#1a1a1a" stroke-width="0.35" font-weight="normal" font-style="normal">2929.22</text>
<text x="418.78" y="723.80" font-size="11.43" textLength="39.45" lengthAdjust="spacingAndGlyphs" fill="#1a1a1a" stroke="#1a1a1a" stroke-width="0.35" font-weight="normal" font-style="normal">1670.26</text>
<text x="455.49" y="737.90" font-size="11.29" textLength="39.25" lengthAdjust="spacingAndGlyphs" fill="#1a1a1a" stroke="#1a1a1a" stroke-width="0.35" font-weight="normal" font-style="normal">1636.55</text>
<text x="481.90" y="671.80" font-size="11.00" textLength="38.74" lengthAdjust="spacingAndGlyphs" fill="#1a1a1a" stroke="#1a1a1a" stroke-width="0.35" font-weight="normal" font-style="normal">1404.82</text>
<text x="519.49" y="654.70" font-size="11.57" textLength="38.41" lengthAdjust="spacingAndGlyphs" fill="#1a1a1a" stroke="#1a1a1a" stroke-width="0.35" font-weight="normal" font-style="normal">1171.31</text>
<text x="543.54" y="630.60" font-size="11.43" textLength="39.73" lengthAdjust="spacingAndGlyphs" fill="#1a1a1a" stroke="#1a1a1a" stroke-width="0.35" font-weight="normal" font-style="normal">1117.36</text>
<text x="627.17" y="628.80" font-size="11.43" textLength="33.11" lengthAdjust="spacingAndGlyphs" fill="#1a1a1a" stroke="#1a1a1a" stroke-width="0.35" font-weight="normal" font-style="normal">556.09</text>
<text x="346.40" y="669.90" font-size="11.59" textLength="91.18" lengthAdjust="spacingAndGlyphs" fill="#262626" stroke="#262626" stroke-width="0.3" font-weight="normal" font-style="normal">Arginine-melanin</text>
<text x="345.91" y="683.00" font-size="11.31" textLength="89.77" lengthAdjust="spacingAndGlyphs" fill="#262626" stroke="#262626" stroke-width="0.3" font-weight="normal" font-style="normal">attachment peak</text>
<line x1="407.4" y1="689.9" x2="423.36" y2="705.77" stroke="#FF2A2A" stroke-width="1.3"/>
<polygon points="426.9,709.3 421.52,707.62 425.19,703.93" fill="#FF2A2A"/>
<ellipse cx="437.5" cy="718.5" rx="26" ry="10.2" fill="none" stroke="#FF2A2A" stroke-width="1.5"/></g>
<rect x="51.5" y="3.5" width="630.00" height="380.00" fill="none" stroke="#2a2a2a" stroke-width="1.7"/>
<rect x="51.9" y="412.2" width="627.00" height="375.20" fill="none" stroke="#2a2a2a" stroke-width="1.7"/>
</svg></div>
</body></html>
